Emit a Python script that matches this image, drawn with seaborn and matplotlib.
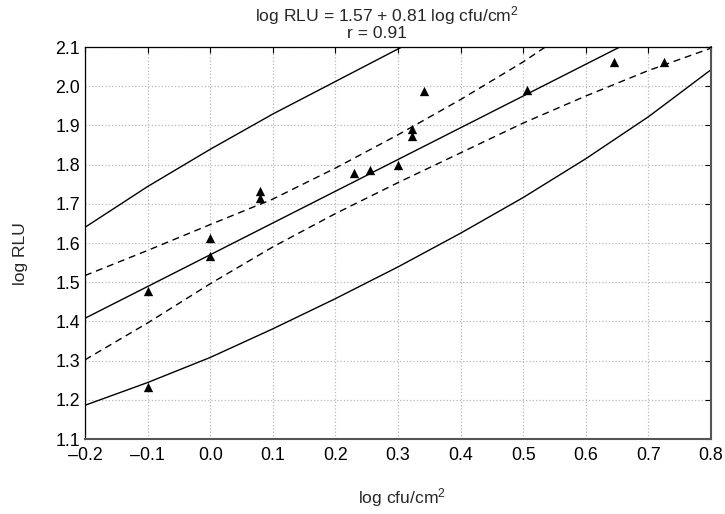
import matplotlib
matplotlib.use("Agg")
import matplotlib.pyplot as plt
import seaborn as sns

# observed points (log cfu/cm2, log RLU)
obs_x = [-0.10, -0.10, 0.00, 0.00, 0.08, 0.08, 0.23, 0.255, 0.30, 0.323, 0.323, 0.342, 0.506, 0.645, 0.725]
obs_y = [1.478, 1.233, 1.613, 1.568, 1.732, 1.716, 1.779, 1.787, 1.799, 1.891, 1.874, 1.988, 1.991, 2.061, 2.063]

# regression line (log RLU = 1.57 + 0.81 log cfu/cm2)
fit_x = [-0.2, 0.8]
fit_y = [1.408, 2.218]

# confidence band (dashed)
ci_up_x = [-0.2, -0.1, 0.0, 0.1, 0.2, 0.3, 0.4, 0.5, 0.54]
ci_up_y = [1.517, 1.581, 1.647, 1.712, 1.791, 1.876, 1.966, 2.062, 2.105]
ci_lo_x = [-0.2, -0.1, 0.0, 0.1, 0.2, 0.3, 0.4, 0.5, 0.6, 0.7, 0.8]
ci_lo_y = [1.302, 1.396, 1.496, 1.590, 1.675, 1.754, 1.830, 1.906, 1.975, 2.040, 2.097]

# prediction band (solid)
pi_up_x = [-0.2, -0.1, 0.0, 0.1, 0.2, 0.3, 0.32]
pi_up_y = [1.640, 1.744, 1.839, 1.929, 2.012, 2.095, 2.111]
pi_lo_x = [-0.2, -0.1, 0.0, 0.1, 0.2, 0.3, 0.4, 0.5, 0.6, 0.7, 0.8]
pi_lo_y = [1.186, 1.244, 1.308, 1.381, 1.458, 1.539, 1.625, 1.716, 1.815, 1.922, 2.042]

x_ticks = [-0.2, -0.1, 0.0, 0.1, 0.2, 0.3, 0.4, 0.5, 0.6, 0.7, 0.8]
y_ticks = [1.1, 1.2, 1.3, 1.4, 1.5, 1.6, 1.7, 1.8, 1.9, 2.0, 2.1]

sns.set_style("white")
plt.rcParams['font.family'] = ['Liberation Sans', 'DejaVu Sans']
plt.rcParams['mathtext.fontset'] = 'custom'
plt.rcParams['mathtext.rm'] = 'Liberation Sans'
plt.rcParams['mathtext.it'] = 'Liberation Sans:italic'

W, H = 725, 514
fig = plt.figure(figsize=(W / 100, H / 100), dpi=100)
ax = fig.add_axes([85 / W, 1 - 439 / H, 626 / W, 392 / H])

lw = 1.0
dash = (0, (5, 3.5))
sns.lineplot(x=pi_up_x, y=pi_up_y, ax=ax, color='black', lw=lw, sort=False, estimator=None)
sns.lineplot(x=pi_lo_x, y=pi_lo_y, ax=ax, color='black', lw=lw, sort=False, estimator=None)
sns.lineplot(x=fit_x, y=fit_y, ax=ax, color='black', lw=lw, sort=False, estimator=None)
sns.lineplot(x=ci_up_x, y=ci_up_y, ax=ax, color='black', lw=lw, sort=False, estimator=None, linestyle=dash)
sns.lineplot(x=ci_lo_x, y=ci_lo_y, ax=ax, color='black', lw=lw, sort=False, estimator=None, linestyle=dash)
sns.scatterplot(x=obs_x, y=obs_y, ax=ax, marker='^', color='black', s=45, linewidth=0, zorder=5)

ax.set_xlim(-0.2, 0.8)
ax.set_ylim(1.1, 2.1)
ax.set_xticks(x_ticks)
ax.set_yticks(y_ticks)
ax.set_xticklabels([f"{t:.1f}".replace('-', '\u2013') for t in x_ticks])
ax.set_yticklabels([f"{t:.1f}" for t in y_ticks])
ax.grid(True, color='#b8b8b8', linestyle=':', linewidth=0.9)
ax.set_axisbelow(True)
ax.tick_params(direction='in', top=True, right=True, length=4, width=0.8,
               labelsize=12.8, colors='black')
ax.tick_params(axis='x', pad=6)
ax.tick_params(axis='y', pad=3.5)
for s in ['top', 'left']:
    ax.spines[s].set_color('black')
    ax.spines[s].set_linewidth(0.9)
for s in ['bottom', 'right']:
    ax.spines[s].set_color('#555555')
    ax.spines[s].set_linewidth(1.5)

ax.set_xlabel("")
ax.set_ylabel("")
fs = 12.6
fig.text(402 / W, 1 - 503.5 / H, "log cfu/cm$^2$", ha='center', va='baseline', fontsize=fs)
fig.text(20 / W, 1 - 254 / H, "log RLU", ha='center', va='center', rotation=90, fontsize=fs)
fig.text(387 / W, 1 - 21 / H, "log RLU = 1.57 + 0.81 log cfu/cm$^2$", ha='center', va='baseline', fontsize=fs)
fig.text(377 / W, 1 - 38 / H, "r = 0.91", ha='center', va='baseline', fontsize=fs)

fig.savefig("out.png", dpi=100)
